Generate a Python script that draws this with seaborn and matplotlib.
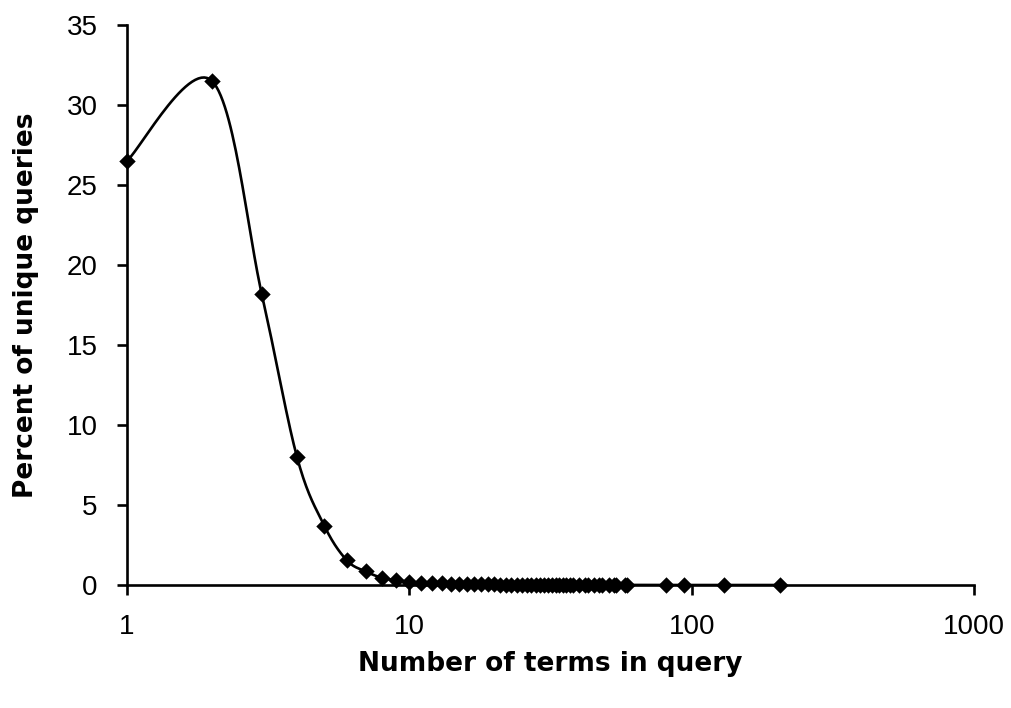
import numpy as np
import pandas as pd
import matplotlib
matplotlib.use("Agg")
import matplotlib.pyplot as plt
import seaborn as sns

# Data
terms = [1, 2, 3, 4, 5, 6, 7, 8, 9, 10,
         11, 12, 13, 14, 15, 16, 17, 18, 19, 20,
         21, 22, 23, 24, 25, 26, 27, 28, 29, 30,
         31, 32, 33, 34, 35, 36, 37, 38, 40, 42,
         43, 45, 47, 48, 51, 53, 54, 58, 59,
         81, 94, 130, 205]
percent = [26.5, 31.5, 18.2, 8.0, 3.7, 1.55, 0.85, 0.45, 0.3, 0.2,
           0.15, 0.12, 0.1, 0.08, 0.07, 0.06, 0.05, 0.05, 0.04, 0.04,
           0.03, 0.03, 0.03, 0.02, 0.02, 0.02, 0.02, 0.02, 0.02, 0.01,
           0.01, 0.01, 0.01, 0.01, 0.01, 0.01, 0.01, 0.01, 0.01, 0.01,
           0.01, 0.01, 0.01, 0.01, 0.01, 0.01, 0.01, 0.01, 0.01,
           0.0, 0.0, 0.0, 0.0]
x_ticks = [1, 10, 100, 1000]
x_tick_labels = ["1", "10", "100", "1000"]
y_ticks = [0, 5, 10, 15, 20, 25, 30, 35]

df = pd.DataFrame({"terms": terms, "percent": percent})


def smooth_curve(x, y, n=30):
    # Catmull-Rom style smoothing in log-x space (like a spreadsheet smoothed line)
    lx = np.log10(np.asarray(x, dtype=float))
    y = np.asarray(y, dtype=float)
    px = np.concatenate([[lx[0]], lx, [lx[-1]]])
    py = np.concatenate([[y[0]], y, [y[-1]]])
    out_x, out_y = [], []
    t = np.linspace(0, 1, n)
    for i in range(1, len(px) - 2):
        p0x, p1x, p2x, p3x = px[i - 1], px[i], px[i + 1], px[i + 2]
        p0y, p1y, p2y, p3y = py[i - 1], py[i], py[i + 1], py[i + 2]
        c1x = p1x + (p2x - p0x) / 6
        c1y = p1y + (p2y - p0y) / 6
        c2x = p2x - (p3x - p1x) / 6
        c2y = p2y - (p3y - p1y) / 6
        bx = ((1 - t) ** 3 * p1x + 3 * (1 - t) ** 2 * t * c1x
              + 3 * (1 - t) * t ** 2 * c2x + t ** 3 * p2x)
        by = ((1 - t) ** 3 * p1y + 3 * (1 - t) ** 2 * t * c1y
              + 3 * (1 - t) * t ** 2 * c2y + t ** 3 * p2y)
        out_x.extend(bx)
        out_y.extend(by)
    return 10 ** np.array(out_x), np.array(out_y)


sx, sy = smooth_curve(terms, percent)
curve = pd.DataFrame({"terms": sx, "percent": sy})

sns.set_style("ticks")
plt.rcParams["font.family"] = ["Liberation Sans", "DejaVu Sans"]

fig = plt.figure(figsize=(10.12, 7.08), dpi=100)
ax = fig.add_axes([0.1255, 0.1737, 0.837, 0.791])

ax.plot(curve["terms"], curve["percent"], color="black", lw=1.9,
        solid_capstyle="round", zorder=2)
sns.scatterplot(data=df, x="terms", y="percent", marker="D", s=70,
                color="black", edgecolor="black", linewidth=0, ax=ax,
                zorder=3, clip_on=False)

ax.set_xscale("log")
ax.set_xlim(1, 1000)
ax.set_ylim(0, 35)
ax.set_xticks(x_ticks)
ax.set_xticklabels(x_tick_labels)
ax.set_yticks(y_ticks)
ax.minorticks_off()
ax.xaxis.set_minor_locator(matplotlib.ticker.NullLocator())

for side in ["top", "right"]:
    ax.spines[side].set_visible(False)
for side in ["left", "bottom"]:
    ax.spines[side].set_linewidth(1.9)
    ax.spines[side].set_color("black")

ax.tick_params(axis="both", direction="out", length=7, width=1.9,
               color="black", labelsize=20, pad=14, labelcolor="black")

# wide bold face for the axis titles, as in the original
label_font = dict(family="DejaVu Sans", fontsize=19, fontweight="bold",
                  color="black")
ax.set_xlabel("Number of terms in query", labelpad=8, **label_font)
ax.set_ylabel("Percent of unique queries", **label_font)
ax.yaxis.set_label_coords(-0.104, 0.5)

fig.savefig("out.png", dpi=100, facecolor="white")
plt.close(fig)
